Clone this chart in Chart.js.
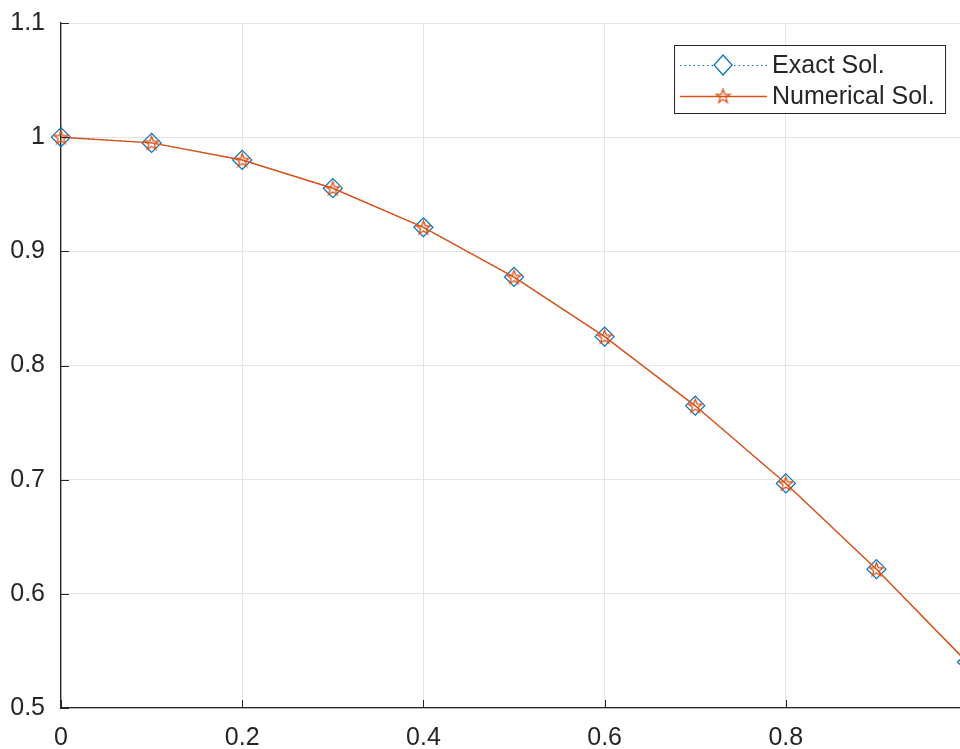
<!DOCTYPE html>
<html>
<head>
<meta charset="utf-8">
<title>Exact vs numerical solution</title>
<script src="https://cdn.jsdelivr.net/npm/chart.js@4.4.1/dist/chart.umd.min.js"></script>
<style>
  html, body { margin: 0; padding: 0; background: #fff; overflow: hidden; width: 960px; height: 749px; }
  #wrap { position: relative; width: 989px; height: 749px; }
</style>
</head>
<body>
<div id="wrap"><canvas id="solChart"></canvas></div>
<script>
// data
const xValues = [0, 0.1, 0.2, 0.3, 0.4, 0.5, 0.6, 0.7, 0.8, 0.9, 1.0];
const exactSol = [1.0000, 0.9950, 0.9801, 0.9553, 0.9211, 0.8776, 0.8253, 0.7648, 0.6967, 0.6216, 0.5403];
const numericalSol = [1.0000, 0.9950, 0.9800, 0.9552, 0.9210, 0.8775, 0.8252, 0.7647, 0.6966, 0.6215, 0.5402];
const seriesNames = ["Exact Sol.", "Numerical Sol."];
const xTicks = [0, 0.2, 0.4, 0.6, 0.8, 1];
const yTicks = [0.5, 0.6, 0.7, 0.8, 0.9, 1.0, 1.1];

const colors = {
  exact: "#0072BD",
  numerical: "#D95319",
  axis: "#262626",
  grid: "#e4e4e4"
};
const FONT = "'Liberation Sans', Arial, Helvetica, sans-serif";

// MATLAB-like pentagram marker
function makeStar(size, color) {
  const c = document.createElement("canvas");
  c.width = c.height = size;
  const g = c.getContext("2d");
  const cx = size / 2, cy = size / 2 + 0.6;
  const R = size / 2 - 1.2, r = R * 0.4;
  g.beginPath();
  for (let i = 0; i < 10; i++) {
    const ang = -Math.PI / 2 + i * Math.PI / 5;
    const rr = i % 2 ? r : R;
    g.lineTo(cx + rr * Math.cos(ang), cy + rr * Math.sin(ang));
  }
  g.closePath();
  g.strokeStyle = color;
  g.lineWidth = 1.3;
  g.stroke();
  return c;
}
const starImg = makeStar(17, colors.numerical);

function fmt(v) {
  return String(Number(v.toFixed(1)));
}

// ticks point into the plot, like MATLAB
const inwardTicks = {
  id: "inwardTicks",
  afterDraw(chart) {
    const { ctx, chartArea: a, scales: { x, y } } = chart;
    ctx.save();
    ctx.strokeStyle = colors.axis;
    ctx.lineWidth = 1;
    ctx.beginPath();
    x.ticks.forEach(t => {
      const px = Math.round(x.getPixelForValue(t.value)) + 0.5;
      ctx.moveTo(px, a.bottom);
      ctx.lineTo(px, a.bottom - 8);
    });
    y.ticks.forEach(t => {
      const py = Math.round(y.getPixelForValue(t.value)) + 0.5;
      ctx.moveTo(a.left, py);
      ctx.lineTo(a.left + 8, py);
    });
    ctx.stroke();
    ctx.restore();
  }
};

// legend box: line sample with marker in the middle
const matlabLegend = {
  id: "matlabLegend",
  afterDraw(chart) {
    const { ctx, chartArea: a } = chart;
    const w = 271, h = 68;
    const left = a.right - 22 - w, top = a.top + 22;
    ctx.save();
    ctx.fillStyle = "#fff";
    ctx.fillRect(left, top, w, h);
    ctx.strokeStyle = colors.axis;
    ctx.lineWidth = 1;
    ctx.strokeRect(left + 0.5, top + 0.5, w, h);

    chart.data.datasets.forEach((ds, i) => {
      const yy = top + 20 + i * 31;
      const x0 = left + 6, x1 = left + 93, xm = left + 49;
      ctx.save();
      ctx.strokeStyle = ds.borderColor;
      ctx.lineWidth = ds.borderWidth;
      ctx.setLineDash(ds.borderDash || []);
      ctx.beginPath();
      ctx.moveTo(x0, yy + 0.5);
      ctx.lineTo(x1, yy + 0.5);
      ctx.stroke();
      ctx.restore();

      if (ds.pointStyle === "rectRot") {
        ctx.save();
        ctx.strokeStyle = ds.pointBorderColor;
        ctx.lineWidth = ds.pointBorderWidth;
        ctx.fillStyle = "#fff";
        ctx.beginPath();
        ctx.moveTo(xm, yy - 10);
        ctx.lineTo(xm + 9, yy);
        ctx.lineTo(xm, yy + 10);
        ctx.lineTo(xm - 9, yy);
        ctx.closePath();
        ctx.fill();
        ctx.stroke();
        ctx.restore();
      } else {
        ctx.drawImage(ds.pointStyle, xm - ds.pointStyle.width / 2, yy - ds.pointStyle.height / 2);
      }

      ctx.fillStyle = colors.axis;
      ctx.font = "25px " + FONT;
      ctx.textBaseline = "middle";
      ctx.textAlign = "left";
      ctx.fillText(ds.label, left + 98, yy + 1);
    });
    ctx.restore();
  }
};

const tickFont = { family: FONT, size: 25 };

new Chart(document.getElementById("solChart"), {
  type: "line",
  data: {
    datasets: [
      {
        label: seriesNames[0],
        data: xValues.map((x, i) => ({ x, y: exactSol[i] })),
        borderColor: colors.exact,
        borderWidth: 1,
        borderDash: [1.5, 3],
        pointStyle: "rectRot",
        pointRadius: 9.5,
        pointBorderColor: colors.exact,
        pointBorderWidth: 1.2,
        pointBackgroundColor: "rgba(0,0,0,0)",
        tension: 0,
        clip: false,
        order: 1
      },
      {
        label: seriesNames[1],
        data: xValues.map((x, i) => ({ x, y: numericalSol[i] })),
        borderColor: colors.numerical,
        borderWidth: 1.5,
        pointStyle: starImg,
        pointRadius: 7,
        tension: 0,
        clip: false,
        order: 0
      }
    ]
  },
  options: {
    responsive: true,
    maintainAspectRatio: false,
    animation: false,
    layout: { padding: { top: 23, right: 13, left: 0, bottom: 0 } },
    plugins: {
      legend: { display: false },
      tooltip: { enabled: false }
    },
    scales: {
      x: {
        type: "linear",
        min: 0,
        max: 1,
        afterBuildTicks: s => { s.ticks = xTicks.map(v => ({ value: v })); },
        afterFit: s => { s.height = 41; },
        ticks: { color: colors.axis, font: tickFont, padding: 15, maxRotation: 0, callback: fmt },
        grid: { color: colors.grid, drawTicks: false },
        border: { color: colors.axis, width: 1.3 }
      },
      y: {
        type: "linear",
        min: 0.5,
        max: 1.1,
        afterBuildTicks: s => { s.ticks = yTicks.map(v => ({ value: v })); },
        afterFit: s => { s.width = 61; s.paddingTop = 0; s.paddingBottom = 0; },
        ticks: { color: colors.axis, font: tickFont, padding: 16, callback: fmt },
        grid: { color: colors.grid, drawTicks: false },
        border: { color: colors.axis, width: 1.3 }
      }
    }
  },
  plugins: [inwardTicks, matlabLegend]
});
</script>
</body>
</html>
